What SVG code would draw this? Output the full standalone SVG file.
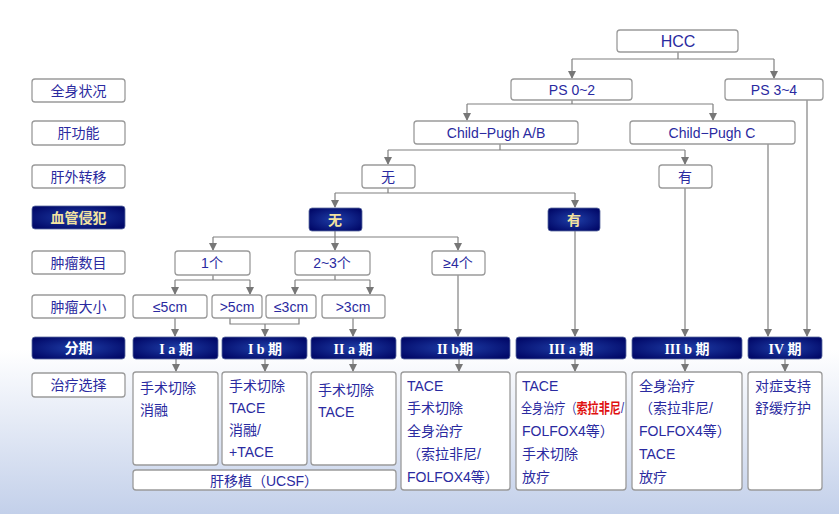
<svg xmlns="http://www.w3.org/2000/svg" width="839" height="514" viewBox="0 0 839 514">
<defs>
<linearGradient id="bg" x1="0" y1="0" x2="0" y2="1">
<stop offset="0" stop-color="#ffffff"/><stop offset="0.68" stop-color="#ffffff"/><stop offset="1" stop-color="#c3d0ea"/>
</linearGradient>
<radialGradient id="dk" cx="0.5" cy="0.5" r="0.6">
<stop offset="0" stop-color="#1f3fa8"/><stop offset="1" stop-color="#020a6a"/>
</radialGradient>
<marker id="ar" markerWidth="8" markerHeight="8" refX="7" refY="4" orient="auto" markerUnits="userSpaceOnUse" viewBox="0 0 8 8">
<path d="M0,0 L8,4 L0,8 Z" fill="#777"/>
</marker>
</defs>
<style>
.b{fill:#fff;stroke:#9a9a9a;stroke-width:1.3}
.d{fill:url(#dk);stroke:#5a6aa0;stroke-width:0.8}
text{font-family:"Liberation Sans","Noto Sans CJK SC",sans-serif;font-size:14px;fill:#2a2aa0}
.c{text-anchor:middle}
.y{fill:#f3e3a0;font-weight:bold}
.s{fill:#fff;font-weight:bold;font-family:"Liberation Serif","Noto Sans CJK SC",serif;text-anchor:middle}
.r{fill:#e01010;font-weight:bold}
#con path{fill:none;stroke:#808080;stroke-width:1.2}
#con .a{marker-end:url(#ar)}
</style>
<rect width="839" height="514" fill="url(#bg)"/>

<g id="con">
<path d="M678,52V59M572,59H774"/>
<path class="a" d="M572,59V78"/><path class="a" d="M774,59V78"/>
<path d="M572,100V104M467,104H713"/>
<path class="a" d="M467,104V120"/><path class="a" d="M713,104V120"/>
<path d="M500,144V150M388,150H685"/>
<path class="a" d="M388,150V164"/><path class="a" d="M685,150V164"/>
<path class="a" d="M768,144V336"/><path class="a" d="M807,100V336"/>
<path class="a" d="M685,188V336"/>
<path d="M388,188V193M335,193H575"/>
<path class="a" d="M335,193V207"/><path class="a" d="M575,193V207"/>
<path class="a" d="M575,231V336"/>
<path d="M335,231V237M213,237H458"/>
<path class="a" d="M213,237V250"/><path class="a" d="M335,237V250"/><path class="a" d="M458,237V250"/>
<path d="M213,275V280M175,280H250"/>
<path class="a" d="M175,280V294"/><path class="a" d="M250,280V294"/>
<path d="M335,275V280M295,280H370"/>
<path class="a" d="M295,280V294"/><path class="a" d="M370,280V294"/>
<path class="a" d="M175,318V336"/>
<path d="M230,318V324H299V318"/>
<path class="a" d="M265,324V336"/>
<path class="a" d="M353,318V336"/>
<path class="a" d="M458,275V336"/>
<path class="a" d="M176,359V371"/><path class="a" d="M265,359V371"/><path class="a" d="M353,359V371"/>
<path class="a" d="M459,359V371"/><path class="a" d="M575,359V371"/><path class="a" d="M685,359V371"/><path class="a" d="M785,359V371"/>
</g>

<g id="lab1"><rect class="b" x="32" y="79" width="93" height="23" rx="3"/><text class="c" x="78.5" y="96">全身状况</text></g>
<g id="lab2"><rect class="b" x="32" y="121" width="93" height="24" rx="3"/><text class="c" x="78.5" y="138">肝功能</text></g>
<g id="lab3"><rect class="b" x="32" y="165" width="93" height="23" rx="3"/><text class="c" x="78.5" y="182">肝外转移</text></g>
<g id="lab4"><rect class="d" x="32" y="206" width="93" height="23" rx="3"/><text class="c y" x="78.5" y="223">血管侵犯</text></g>
<g id="lab5"><rect class="b" x="32" y="251" width="93" height="23" rx="3"/><text class="c" x="78.5" y="268">肿瘤数目</text></g>
<g id="lab6"><rect class="b" x="32" y="295" width="93" height="23" rx="3"/><text class="c" x="78.5" y="312">肿瘤大小</text></g>
<g id="lab7"><rect class="d" x="32" y="337" width="93" height="22" rx="3"/><text class="c" x="78.5" y="353" style="fill:#fff;font-weight:bold">分期</text></g>
<g id="lab8"><rect class="b" x="32" y="373" width="93" height="24" rx="3"/><text class="c" x="78.5" y="390">治疗选择</text></g>

<g id="hcc"><rect class="b" x="617" y="30" width="121" height="22" rx="3"/><text class="c" x="678" y="47" style="font-size:16px">HCC</text></g>
<g id="ps02"><rect class="b" x="511" y="79" width="121" height="21" rx="3"/><text class="c" x="572" y="95">PS 0~2</text></g>
<g id="ps34"><rect class="b" x="725" y="79" width="98" height="21" rx="3"/><text class="c" x="774" y="95">PS 3~4</text></g>
<g id="cpab"><rect class="b" x="414" y="121" width="164" height="23" rx="3"/><text class="c" x="496" y="138">Child−Pugh A/B</text></g>
<g id="cpc"><rect class="b" x="630" y="121" width="165" height="23" rx="3"/><text class="c" x="712" y="138">Child−Pugh C</text></g>
<g id="ew-no"><rect class="b" x="362" y="165" width="53" height="23" rx="3"/><text class="c" x="388" y="182">无</text></g>
<g id="ew-yes"><rect class="b" x="659" y="165" width="53" height="23" rx="3"/><text class="c" x="685" y="182">有</text></g>
<g id="v-no"><rect class="d" x="309" y="208" width="53" height="23" rx="3"/><text class="c y" x="335" y="225">无</text></g>
<g id="v-yes"><rect class="d" x="548" y="208" width="52" height="23" rx="3"/><text class="c y" x="574" y="225">有</text></g>
<g id="n1"><rect class="b" x="175" y="251" width="75" height="24" rx="3"/><text class="c" x="212" y="268">1个</text></g>
<g id="n23"><rect class="b" x="295" y="251" width="75" height="24" rx="3"/><text class="c" x="332" y="268">2~3个</text></g>
<g id="n4"><rect class="b" x="432" y="251" width="53" height="24" rx="3"/><text class="c" x="458" y="268">≥4个</text></g>
<g id="s5a"><rect class="b" x="133" y="295" width="74" height="23" rx="3"/><text class="c" x="170" y="312">≤5cm</text></g>
<g id="s5b"><rect class="b" x="212" y="295" width="50" height="23" rx="3"/><text class="c" x="237" y="312">&gt;5cm</text></g>
<g id="s3a"><rect class="b" x="266" y="295" width="50" height="23" rx="3"/><text class="c" x="291" y="312">≤3cm</text></g>
<g id="s3b"><rect class="b" x="322" y="295" width="63" height="23" rx="3"/><text class="c" x="353" y="312">&gt;3cm</text></g>

<g id="st1"><rect class="d" x="133" y="337" width="85" height="22" rx="3"/><text class="s" x="176" y="354">I a 期</text></g>
<g id="st2"><rect class="d" x="222" y="337" width="85" height="22" rx="3"/><text class="s" x="265" y="354">I b 期</text></g>
<g id="st3"><rect class="d" x="311" y="337" width="85" height="22" rx="3"/><text class="s" x="353" y="354">II a 期</text></g>
<g id="st4"><rect class="d" x="401" y="337" width="109" height="22" rx="3"/><text class="s" x="455" y="354">II b期</text></g>
<g id="st5"><rect class="d" x="516" y="337" width="110" height="22" rx="3"/><text class="s" x="571" y="354">III a 期</text></g>
<g id="st6"><rect class="d" x="632" y="337" width="110" height="22" rx="3"/><text class="s" x="687" y="354">III b 期</text></g>
<g id="st7"><rect class="d" x="748" y="337" width="74" height="22" rx="3"/><text class="s" x="785" y="354">IV 期</text></g>

<g id="t1"><rect class="b" x="133" y="372" width="85" height="93" rx="3"/><text x="140" y="393">手术切除</text><text x="140" y="415">消融</text></g>
<g id="t2"><rect class="b" x="222" y="372" width="85" height="93" rx="3"/><text x="229" y="391">手术切除</text><text x="229" y="413">TACE</text><text x="229" y="435">消融/</text><text x="229" y="457">+TACE</text></g>
<g id="t3"><rect class="b" x="311" y="372" width="85" height="93" rx="3"/><text x="318" y="395">手术切除</text><text x="318" y="417">TACE</text></g>
<g id="t4"><rect class="b" x="401" y="372" width="109" height="118" rx="3"/><text x="407" y="391">TACE</text><text x="407" y="413">手术切除</text><text x="407" y="436">全身治疗</text><text x="407" y="459">（索拉非尼/</text><text x="407" y="482">FOLFOX4等）</text></g>
<g id="t5"><rect class="b" x="516" y="372" width="110" height="118" rx="3"/><text x="522" y="391">TACE</text><text x="521" y="413" textLength="103" lengthAdjust="spacingAndGlyphs">全身治疗（<tspan class="r">索拉非尼</tspan>/</text><text x="522" y="436">FOLFOX4等）</text><text x="522" y="459">手术切除</text><text x="522" y="482">放疗</text></g>
<g id="t6"><rect class="b" x="632" y="372" width="110" height="118" rx="3"/><text x="639" y="391">全身治疗</text><text x="639" y="413">（索拉非尼/</text><text x="639" y="436">FOLFOX4等）</text><text x="639" y="459">TACE</text><text x="639" y="482">放疗</text></g>
<g id="t7"><rect class="b" x="748" y="372" width="74" height="118" rx="3"/><text x="755" y="391">对症支持</text><text x="755" y="413">舒缓疗护</text></g>
<g id="tx"><rect class="b" x="133" y="470" width="263" height="20" rx="3"/><text class="c" x="264" y="486">肝移植（UCSF）</text></g>
</svg>
